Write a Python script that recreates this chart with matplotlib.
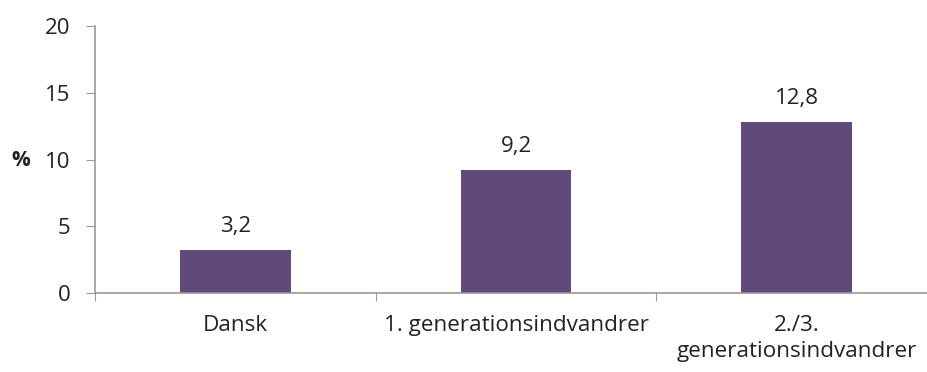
import matplotlib.pyplot as plt
import numpy as np

plt.rcParams['font.family'] = ['Open Sans', 'DejaVu Sans']

categories = ["Dansk", "1. generationsindvandrer", "2./3.\ngenerationsindvandrer"]
values = [3.2, 9.2, 12.8]
labels = ["3,2", "9,2", "12,8"]

fig = plt.figure(figsize=(9.28, 3.72), dpi=100)
ax = fig.add_axes([95 / 928, 79 / 372, 842 / 928, 267 / 372])

x = np.arange(len(categories))
ax.bar(x, values, width=0.395, color="#5f4a7b")
for xi, v, lab in zip(x, values, labels):
    ax.text(xi, v + 1.35, lab, ha="center", va="baseline", fontsize=16, color="#222222")

ax.set_xlim(-0.5, len(categories) - 0.5)
ax.set_ylim(0, 20)
ax.set_yticks([0, 5, 10, 15, 20])
ax.tick_params(axis="y", direction="out", length=6.5, color="#999999", labelsize=16,
               labelcolor="#222222", pad=11)

ax.set_xticks(np.arange(len(categories) + 1) - 0.5, minor=False)
ax.set_xticklabels([])
ax.set_xticks(x, minor=True)
ax.set_xticklabels(categories, minor=True, fontsize=16.2, color="#222222", linespacing=1.3)
ax.tick_params(axis="x", which="minor", length=0, pad=16)
ax.tick_params(axis="x", which="major", direction="out", length=5.5, color="#999999")

for s in ["top", "right"]:
    ax.spines[s].set_visible(False)
for s in ["left", "bottom"]:
    ax.spines[s].set_color("#999999")
    ax.spines[s].set_linewidth(1.2)

fig.text(21 / 928, 1 - 160 / 372, "%", fontsize=15, fontweight="bold",
         ha="center", va="center", color="#222222")

fig.savefig("out.png", dpi=100)
